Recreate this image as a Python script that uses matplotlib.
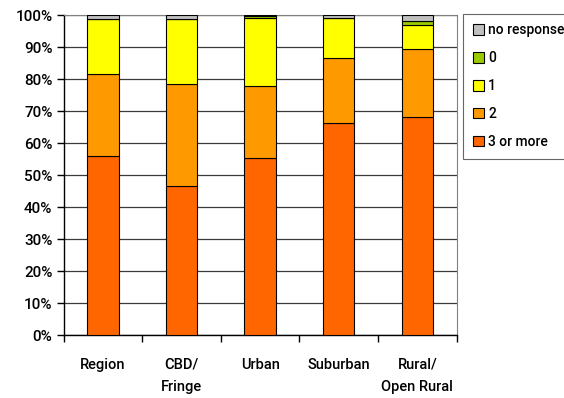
import matplotlib
matplotlib.use("Agg")
import matplotlib.pyplot as plt
import numpy as np
from matplotlib.ticker import FixedLocator, PercentFormatter

# Share of households by number of vehicles, per area type (%)
areas = ["Region", "CBD/\nFringe", "Urban", "Suburban", "Rural/\nOpen Rural"]
three_plus = [55.9, 46.6, 55.5, 66.3, 68.3]
two = [25.9, 31.9, 22.4, 20.5, 21.1]
one = [17.0, 20.3, 21.3, 12.2, 7.5]
zero = [0.1, 0.1, 0.5, 0.1, 1.3]
no_response = [1.1, 1.1, 0.3, 0.9, 1.8]

series = [
    ("3 or more", three_plus, "#FF6600"),
    ("2", two, "#FF9900"),
    ("1", one, "#FFFF00"),
    ("0", zero, "#99CC00"),
    ("no response", no_response, "#C0C0C0"),
]

plt.rcParams["font.family"] = ["Roboto", "DejaVu Sans"]
plt.rcParams["font.weight"] = "medium"

fig = plt.figure(figsize=(5.64, 3.98), dpi=100)
ax = fig.add_axes([0.1126, 0.1575, 0.6972, 0.8041])

x = np.arange(len(areas))
bottom = np.zeros(len(areas))
handles = []
for label, vals, color in series:
    b = ax.bar(x, vals, width=0.40, bottom=bottom, color=color,
               edgecolor="black", linewidth=0.8, label=label, zorder=3)
    handles.append(b)
    bottom += np.array(vals)

ax.set_xlim(-0.5, len(areas) - 0.5)
ax.set_ylim(0, 100)
ax.yaxis.set_major_locator(FixedLocator(np.arange(0, 101, 10)))
ax.yaxis.set_major_formatter(PercentFormatter(decimals=0))
ax.grid(axis="y", color="#3a3a3a", linewidth=0.9, zorder=0)

ax.set_xticks(x)
ax.set_xticklabels(areas, linespacing=1.75, fontsize=10.5)
ax.xaxis.set_minor_locator(FixedLocator(np.arange(-0.5, len(areas), 1)))
ax.tick_params(axis="x", which="major", length=0, pad=16)
ax.tick_params(axis="x", which="minor", length=5, width=1, direction="out")
ax.tick_params(axis="y", length=5, width=1, direction="out", labelsize=11, pad=3)

for side in ["top", "right"]:
    ax.spines[side].set_color("#808080")
for side in ["left", "bottom"]:
    ax.spines[side].set_color("black")
    ax.spines[side].set_linewidth(1)

leg = fig.legend(handles[::-1], [s[0] for s in series][::-1],
                 loc="upper left", bbox_to_anchor=(0.821, 0.966),
                 frameon=True, fancybox=False, edgecolor="#404040",
                 handlelength=0.8, handleheight=0.8, handletextpad=0.3,
                 labelspacing=1.0, borderpad=0.7, fontsize=10,
                 borderaxespad=0)
leg.get_frame().set_linewidth(0.8)

fig.savefig("out.png", dpi=100)
